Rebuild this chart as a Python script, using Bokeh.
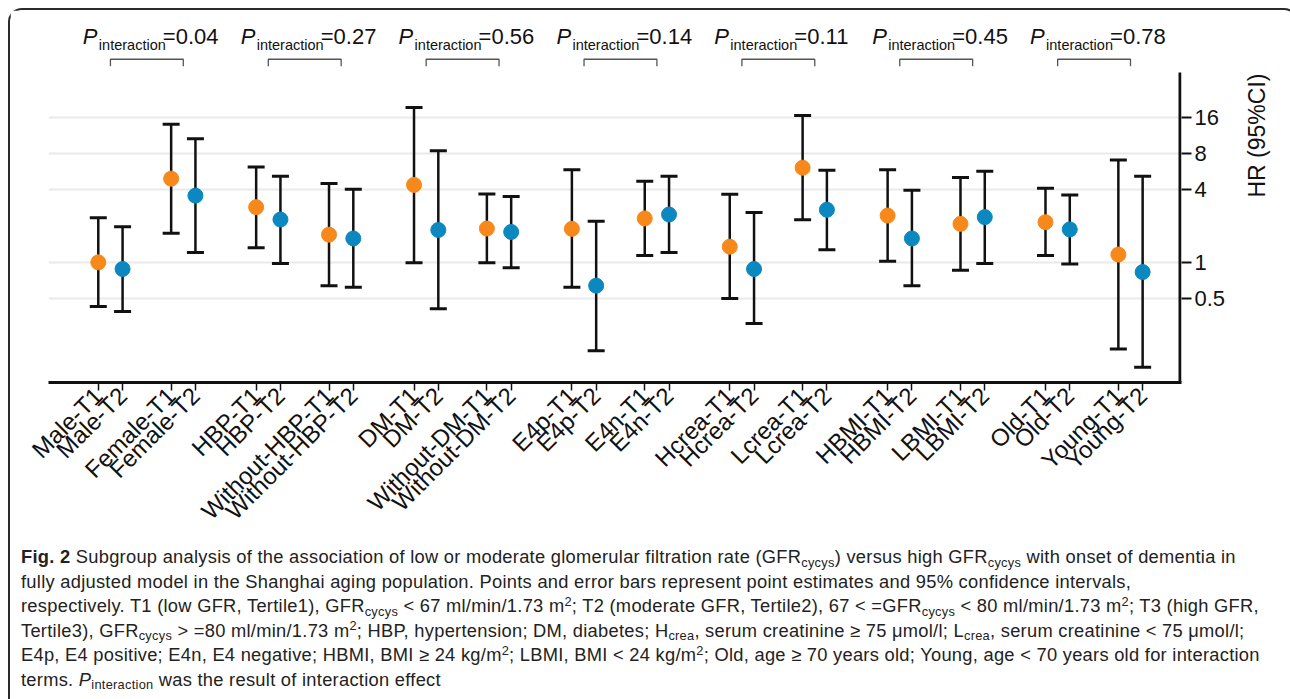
import math
from bokeh.plotting import figure
from bokeh.models import Range1d, FixedTicker, CustomJSTickFormatter, Div, ColumnDataSource
from bokeh.layouts import column
from bokeh.core.properties import value
from bokeh.embed import file_html
from bokeh.resources import INLINE

# ---------------- data ----------------
subgroups = ["Male", "Female", "HBP", "Without-HBP", "DM", "Without-DM", "E4p", "E4n",
             "Hcrea", "Lcrea", "HBMI", "LBMI", "Old", "Young"]
t1_hr = [1.00, 4.97, 2.88, 1.70, 4.41, 1.91, 1.90, 2.32, 1.35, 6.13, 2.45, 2.09, 2.16, 1.16]
t1_lo = [0.43, 1.75, 1.32, 0.64, 0.99, 0.99, 0.62, 1.14, 0.50, 2.26, 1.02, 0.86, 1.14, 0.19]
t1_hi = [2.35, 14.1, 6.22, 4.52, 19.4, 3.71, 5.90, 4.73, 3.69, 16.7, 5.90, 5.07, 4.14, 7.10]
t2_hr = [0.88, 3.59, 2.27, 1.58, 1.86, 1.79, 0.64, 2.50, 0.88, 2.74, 1.58, 2.38, 1.88, 0.83]
t2_lo = [0.39, 1.21, 0.98, 0.62, 0.41, 0.90, 0.184, 1.21, 0.31, 1.27, 0.64, 0.98, 0.97, 0.134]
t2_hi = [1.98, 10.7, 5.21, 4.06, 8.50, 3.53, 2.20, 5.21, 2.60, 5.84, 3.98, 5.73, 3.64, 5.21]
p_interaction = ["0.04", "0.27", "0.56", "0.14", "0.11", "0.45", "0.78"]
y_ticks = [0.5, 1, 4, 8, 16]

ORANGE = "#F7891B"
BLUE = "#0A88BF"
FONT = "Liberation Sans"

# ---------------- layout of categories ----------------
GROUP_STEP = 6.5
SUB_STEP = 3.0
x1, x2 = [], []
for k in range(len(subgroups)):
    g, s = divmod(k, 2)
    base = g * GROUP_STEP + s * SUB_STEP
    x1.append(base)
    x2.append(base + 1)
group_centers = [g * GROUP_STEP + 2.0 for g in range(len(p_interaction))]

tick_pos = []
tick_lab = {}
for k, sg in enumerate(subgroups):
    tick_pos += [x1[k], x2[k]]
    tick_lab[x1[k]] = sg + "-T1"
    tick_lab[x2[k]] = sg + "-T2"

X_START, X_END = -2.05, 44.6
Y_START, Y_END = 0.1, 120

p = figure(width=1276, height=530,
           x_range=Range1d(X_START, X_END), y_range=Range1d(Y_START, Y_END),
           y_axis_type="log", y_axis_location="right",
           output_backend="svg", toolbar_location=None,
           min_border_left=38, min_border_right=100, min_border_top=2, min_border_bottom=158,
           outline_line_color=None, background_fill_color="white", border_fill_color="white")

# grid
p.xgrid.visible = False
p.ygrid.grid_line_color = "#EAEAEA"
p.ygrid.grid_line_width = 2

# x axis
xa = p.xaxis[0]
xa.ticker = FixedTicker(ticks=tick_pos, minor_ticks=[])
xa.major_label_overrides = tick_lab
xa.major_label_orientation = math.pi / 4
xa.major_label_text_font = FONT
xa.major_label_text_font_size = "24px"
xa.major_label_text_color = "#111111"
xa.axis_line_width = 3
xa.axis_line_color = "#111111"
xa.major_tick_out = 8
xa.major_tick_in = 0
xa.major_tick_line_width = 1.5
xa.major_tick_line_color = "#111111"
xa.minor_tick_line_color = None
xa.major_label_standoff = 1

# y axis (right)
ya = p.yaxis[0]
ya.ticker = FixedTicker(ticks=y_ticks, minor_ticks=[])
ya.formatter = CustomJSTickFormatter(code="return String(tick);")
ya.major_label_text_font = FONT
ya.major_label_text_font_size = "22px"
ya.major_label_text_color = "#111111"
ya.axis_line_color = None
ya.major_tick_out = 10
ya.major_tick_in = 0
ya.major_tick_line_width = 2
ya.major_tick_line_color = "#111111"
ya.minor_tick_line_color = None
ya.major_label_standoff = 3
ya.axis_label = "HR (95%CI)"
ya.axis_label_text_font = FONT
ya.axis_label_text_font_size = "23px"
ya.axis_label_text_font_style = "normal"
ya.axis_label_text_color = "#111111"
ya.axis_label_standoff = 29
ya.axis_label_orientation = math.pi / 2

# manual y-axis line (stops below the annotation band)
px_per_unit = 1138 / (X_END - X_START)
AXIS_TOP = 38
ax_x = X_END - 1.5 / px_per_unit
p.segment(x0=[ax_x], y0=[Y_START], x1=[ax_x], y1=[AXIS_TOP], line_color="#111111", line_width=3)

# error bars
src1 = ColumnDataSource(dict(x=x1, hr=t1_hr, lo=t1_lo, hi=t1_hi))
src2 = ColumnDataSource(dict(x=x2, hr=t2_hr, lo=t2_lo, hi=t2_hi))
for src in (src1, src2):
    p.segment(x0="x", y0="lo", x1="x", y1="hi", source=src, line_color="#111111", line_width=2.5)
    p.scatter(x="x", y="lo", source=src, marker="dash", size=17, line_color="#111111", line_width=3)
    p.scatter(x="x", y="hi", source=src, marker="dash", size=17, line_color="#111111", line_width=3)
p.scatter(x="x", y="hr", source=src1, marker="circle", size=15, fill_color=ORANGE, line_color=ORANGE)
p.scatter(x="x", y="hr", source=src2, marker="circle", size=15, fill_color=BLUE, line_color=BLUE)

# interaction brackets
BR_TOP = 49
BR_LEG = 42.9
bxs, bys = [], []
for g in range(len(p_interaction)):
    a = g * GROUP_STEP + 0.5
    b = g * GROUP_STEP + SUB_STEP + 0.5
    bxs.append([a, a, b, b])
    bys.append([BR_LEG, BR_TOP, BR_TOP, BR_LEG])
p.multi_line(xs=bxs, ys=bys, line_color="#555555", line_width=1.3)

# P_interaction labels
Y_P = 76
Y_SUB = 64.7
lab_src = ColumnDataSource(dict(x=group_centers,
                                P=["P"] * len(p_interaction),
                                sub=["interaction"] * len(p_interaction),
                                val=["=" + v for v in p_interaction],
                                yp=[Y_P] * len(p_interaction),
                                ys=[Y_SUB] * len(p_interaction)))
p.text(x="x", y="yp", text="P", source=lab_src, x_offset=-64, text_font=value(FONT),
       text_font_size="22px", text_font_style="italic", text_color="#111111",
       text_align="left", text_baseline="alphabetic")
p.text(x="x", y="ys", text="sub", source=lab_src, x_offset=-48, text_font=value(FONT),
       text_font_size="14.5px", text_color="#111111", text_align="left", text_baseline="alphabetic")
p.text(x="x", y="yp", text="val", source=lab_src, x_offset=16, text_font=value(FONT),
       text_font_size="22px", text_color="#111111", text_align="left", text_baseline="alphabetic")

# caption
SUB = '<span style="font-size:0.7em;line-height:0;position:relative;top:0.3em;">'
SUP = '<span style="font-size:0.7em;line-height:0;position:relative;top:-0.5em;">'
E = "</span>"
cap_html = (
    "<b>Fig. 2</b> Subgroup analysis of the association of low or moderate glomerular filtration rate "
    f"(GFR{SUB}cycys{E}) versus high GFR{SUB}cycys{E} with onset of dementia in<br>"
    "fully adjusted model in the Shanghai aging population. Points and error bars represent point "
    "estimates and 95% confidence intervals,<br>"
    f"respectively. T1 (low GFR, Tertile1), GFR{SUB}cycys{E} &lt; 67 ml/min/1.73 m{SUP}2{E}; "
    f"T2 (moderate GFR, Tertile2), 67 &lt; =GFR{SUB}cycys{E} &lt; 80 ml/min/1.73 m{SUP}2{E}; T3 (high GFR,<br>"
    f"Tertile3), GFR{SUB}cycys{E} &gt; =80 ml/min/1.73 m{SUP}2{E}; HBP, hypertension; DM, diabetes; "
    f"H{SUB}crea{E}, serum creatinine ≥ 75 μmol/l; L{SUB}crea{E}, serum creatinine &lt; 75 μmol/l;<br>"
    f"E4p, E4 positive; E4n, E4 negative; HBMI, BMI ≥ 24 kg/m{SUP}2{E}; LBMI, BMI &lt; 24 kg/m{SUP}2{E}; "
    "Old, age ≥ 70 years old; Young, age &lt; 70 years old for interaction<br>"
    f"terms. <i>P</i>{SUB}interaction{E} was the result of interaction effect"
)
cap = Div(text=cap_html, width=1276, height=156,
          styles={"font-family": "'Liberation Sans', Arial, sans-serif", "font-size": "18.3px",
                  "letter-spacing": "0.28px",
                  "line-height": "24.5px", "color": "#222222", "white-space": "nowrap",
                  "padding-top": "0px", "padding-left": "6px", "box-sizing": "border-box"})

layout = column(p, cap, margin=(8, 0, 0, 8),
                styles={"border-top": "2px solid #2b2b2b", "border-left": "2px solid #2b2b2b",
                        "border-right": "2px solid #2b2b2b",
                        "border-radius": "14px 14px 0 0", "background-color": "white"})

open("out.html", "w").write(file_html(layout, INLINE))
